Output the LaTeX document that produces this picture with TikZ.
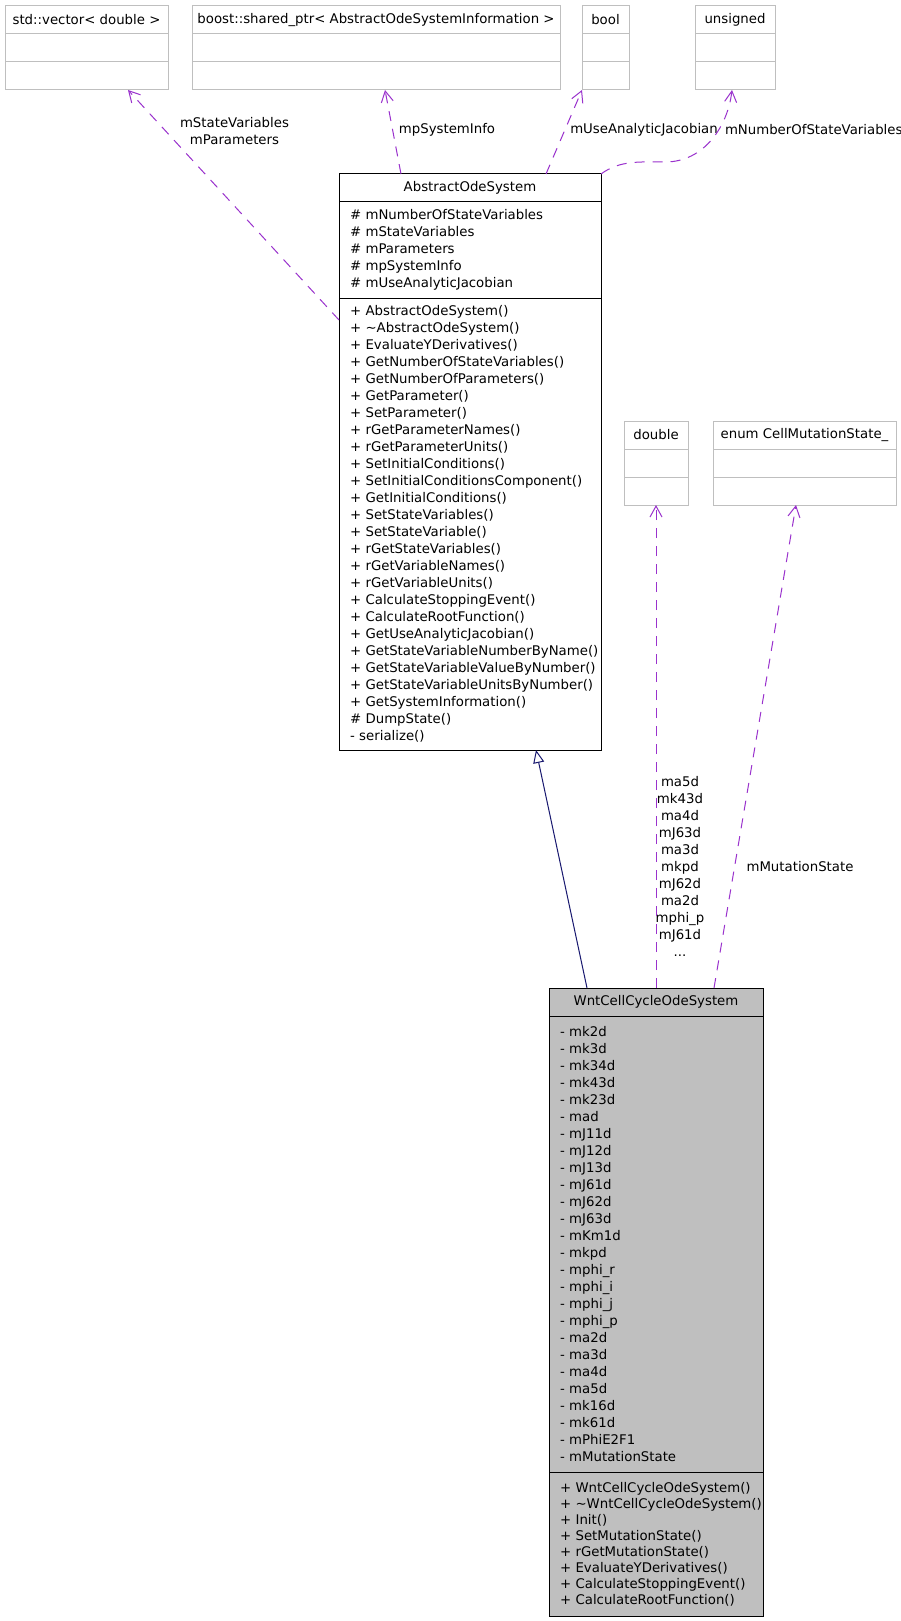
\documentclass[tikz,border=0pt]{standalone}
\usepackage{fontspec}
\setmainfont{DejaVu Sans}
\usetikzlibrary{arrows.meta,positioning}
\definecolor{usage}{RGB}{154,50,205}
\definecolor{inherit}{RGB}{25,25,112}
\definecolor{typeline}{RGB}{191,191,191}
\definecolor{classfill}{RGB}{191,191,191}
\hyphenpenalty=10000
\exhyphenpenalty=10000

\begin{document}
\begin{tikzpicture}[
  x=1pt, y=-1pt,
  every node/.style={font=\fontsize{13.3pt}{17pt}\selectfont, inner sep=0pt, outer sep=0pt},
  typehead/.style={draw=typeline, line width=1pt, minimum width=#1, minimum height=28pt, anchor=north west},
  typepart/.style={draw=typeline, line width=1pt, minimum width=#1, minimum height=28pt},
  classhead/.style={draw=black, line width=1pt, minimum width=#1, minimum height=28pt, anchor=north west},
  classpart/.style={draw=black, line width=1pt, text width=#1, inner xsep=11pt, align=left},
  usearr/.style={-{Straight Barb[length=11pt,width=12pt]}, line width=1pt, color=usage, dash pattern=on 10pt off 8pt},
  isa/.style={-{Triangle[open,length=13pt,width=11pt]}, line width=1pt, color=inherit, fill=white},
  node distance=0pt
]
\path[use as bounding box, fill=white] (0,0) rectangle (901,1621);

% member types
\node[typehead=163pt] (vec) at (5,6) {std::vector< double >};
\node[typepart=163pt, below=of vec] (vec-m) {};
\node[typepart=163pt, below=of vec-m] (vec-b) {};

\node[typehead=368pt] (ptr) at (192,6) {boost::shared\_ptr< AbstractOdeSystemInformation >};
\node[typepart=368pt, below=of ptr] (ptr-m) {};
\node[typepart=368pt, below=of ptr-m] (ptr-b) {};

\node[typehead=47pt] (bool) at (582,6) {bool};
\node[typepart=47pt, below=of bool] (bool-m) {};
\node[typepart=47pt, below=of bool-m] (bool-b) {};

\node[typehead=80pt] (uns) at (695,6) {unsigned};
\node[typepart=80pt, below=of uns] (uns-m) {};
\node[typepart=80pt, below=of uns-m] (uns-b) {};

\node[typehead=64pt] (dbl) at (624,421) {double};
\node[typepart=64pt, below=of dbl] (dbl-m) {};
\node[typepart=64pt, below=of dbl-m] (dbl-b) {};

\node[typehead=183pt] (enum) at (713,421) {enum CellMutationState\_};
\node[typepart=183pt, below=of enum] (enum-m) {};
\node[typepart=183pt, below=of enum-m] (enum-b) {};

% base class
\node[classhead=262pt] (abs) at (339,174) {AbstractOdeSystem};
\node[classpart=240pt, minimum height=96pt, below=of abs] (abs-attr)
  {\# mNumberOfStateVariables\\
   \# mStateVariables\\
   \# mParameters\\
   \# mpSystemInfo\\
   \# mUseAnalyticJacobian};
\node[classpart=240pt, minimum height=452pt, below=of abs-attr] (abs-ops)
  {+ AbstractOdeSystem()\\
   + \textasciitilde AbstractOdeSystem()\\
   + EvaluateYDerivatives()\\
   + GetNumberOfStateVariables()\\
   + GetNumberOfParameters()\\
   + GetParameter()\\
   + SetParameter()\\
   + rGetParameterNames()\\
   + rGetParameterUnits()\\
   + SetInitialConditions()\\
   + SetInitialConditionsComponent()\\
   + GetInitialConditions()\\
   + SetStateVariables()\\
   + SetStateVariable()\\
   + rGetStateVariables()\\
   + rGetVariableNames()\\
   + rGetVariableUnits()\\
   + CalculateStoppingEvent()\\
   + CalculateRootFunction()\\
   + GetUseAnalyticJacobian()\\
   +~GetStateVariableNumberByName()\\
   +~GetStateVariableValueByNumber()\\
   +~GetStateVariableUnitsByNumber()\\
   + GetSystemInformation()\\
   \# DumpState()\\
   - serialize()};

% derived class
\node[classhead=214pt, fill=classfill] (wnt) at (549,988) {WntCellCycleOdeSystem};
\node[classpart=192pt, fill=classfill, minimum height=456pt, below=of wnt] (wnt-attr)
  {- mk2d\\ - mk3d\\ - mk34d\\ - mk43d\\ - mk23d\\ - mad\\
   - mJ11d\\ - mJ12d\\ - mJ13d\\ - mJ61d\\ - mJ62d\\ - mJ63d\\
   - mKm1d\\ - mkpd\\ - mphi\_r\\ - mphi\_i\\ - mphi\_j\\ - mphi\_p\\
   - ma2d\\ - ma3d\\ - ma4d\\ - ma5d\\ - mk16d\\ - mk61d\\
   - mPhiE2F1\\ - mMutationState};
\node[classpart=192pt, fill=classfill, minimum height=144pt, below=of wnt-attr,
      font=\fontsize{13.3pt}{16pt}\selectfont] (wnt-ops)
  {+~WntCellCycleOdeSystem()\\
   +~\textasciitilde WntCellCycleOdeSystem()\\
   + Init()\\
   + SetMutationState()\\
   + rGetMutationState()\\
   + EvaluateYDerivatives()\\
   + CalculateStoppingEvent()\\
   + CalculateRootFunction()};

% edge labels
\node[align=center] (lblvec) at (234.5,131) {mStateVariables\\mParameters};
\node (lblptr) at (447,130) {mpSystemInfo};
\node (lblbool) at (644,130) {mUseAnalyticJacobian};
\node[anchor=west] (lbluns) at (725,130) {mNumberOfStateVariables};
\node[align=center] (lbldbl) at (680,866)
  {ma5d\\mk43d\\ma4d\\mJ63d\\ma3d\\mkpd\\mJ62d\\ma2d\\mphi\_p\\mJ61d\\...};
\node (lblenum) at (800,867) {mMutationState};

\draw[usearr] ([yshift=-22pt]abs-ops.north west) -- ([xshift=41.5pt]vec-b.south);
\draw[usearr] ([xshift=-69pt]abs.north) -- ([xshift=9pt]ptr-b.south);
\draw[usearr] ([xshift=76pt]abs.north) -- (bool-b.south west);
\draw[usearr] (abs.north east) .. controls (620,160) and (640,162) .. (665,162)
  .. controls (705,162) and (728,125) .. ([xshift=-3pt]uns-b.south);
\draw[isa] ([xshift=-69pt]wnt.north) -- ([xshift=66pt]abs-ops.south);
\draw[usearr] (wnt.north) -- (dbl-b.south);
\draw[usearr] ([xshift=58pt]wnt.north) -- ([xshift=-8.5pt]enum-b.south);
\end{tikzpicture}
\end{document}
